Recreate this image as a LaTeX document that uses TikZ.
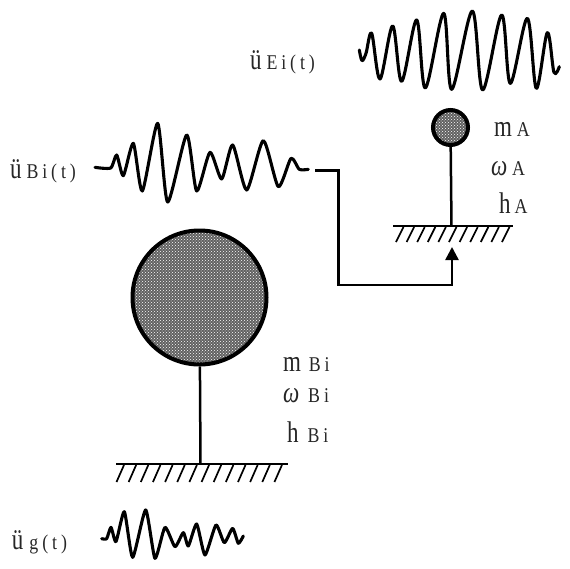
\documentclass[tikz,border=0pt]{standalone}
\usepackage{fontspec}
\usepackage{graphicx}
\usetikzlibrary{arrows.meta,patterns}
\setmainfont{Liberation Serif}
\newfontfamily\subf[LetterSpace=22]{Liberation Serif}
\newcommand{\mainl}[1]{\scalebox{1}[1.3]{\fontsize{23}{23}\selectfont #1}}
\newcommand{\subl}[1]{\scalebox{.85}[1]{\subf\fontsize{21}{21}\selectfont #1}}
\tikzset{
  x=1pt,y=-1pt,
  lbl/.style={anchor=base west,inner sep=0pt,outer sep=0pt,text=black!85},
  ink/.style={line width=2.5pt,black,line cap=round,line join=round},
  wave/.style={ink,line width=3.1pt},
  ball/.style={circle,draw=black,line width=4pt,inner sep=0pt,preaction={fill=black!62},pattern=crosshatch dots,pattern color=white},
  ground/.style={line width=2.5pt,black},
  hatch/.style={line width=1.7pt,black},
  conn/.style={ink,line cap=butt,line join=miter},
}
\begin{document}
\begin{tikzpicture}
\useasboundingbox (0,0) rectangle (570,568);
% balls
\node[ball,minimum size=134pt] (ballB) at (199.5,297.5) {};
\node[ball,minimum size=35pt] (ballA) at (450.5,127.5) {};
% ground A
\coordinate (gAl) at (393,226); \coordinate (gAr) at (513,226); \coordinate (gAm) at (451.5,226);
\draw[ground] (gAl) -- (gAr);
\foreach \i in {0,...,10} \draw[hatch] (396+\i*10.6,242) -- (403.5+\i*10.6,227);
\draw[ink,line cap=butt] (ballA) -- (gAm);
% ground B
\coordinate (gBl) at (116,464); \coordinate (gBr) at (288,464); \coordinate (gBm) at (200.5,464);
\draw[ground] (gBl) -- (gBr);
\foreach \i in {0,...,13} \draw[hatch] (116.5+\i*12.15,482) -- (124+\i*12.15,465);
\draw[ink,line cap=butt] (ballB) -- (gBm);
% connector
\coordinate (c1) at (315,170.7); \coordinate (c2) at (338.5,170.7);
\coordinate (c3) at (338.5,285); \coordinate (c4) at (452,285); \coordinate (c5) at (452,247);
\draw[conn,-{Triangle[length=13pt,width=13pt]}] (c1) -- (c2) -- (c3) -- (c4) -- (c5);
% waves
\begin{scope}[shift={(340,10)},x=0.3333pt,y=-0.3333pt]
\draw[wave] plot[smooth,tension=.55] coordinates {(58,120)(66,152)(78,130)(95,70)(120,207)(158,48)(185,214)(230,30)(256,234)(311,10)(335,238)(397,3)(428,240)(485,15)(511,220)(562,25)(589,235)(622,68)(642,187)(658,170)};
\end{scope}
\begin{scope}[shift={(90,110)},x=0.3333pt,y=-0.3333pt]
\draw[wave] plot[smooth,tension=.4] coordinates {(15,172)(62,174)(80,135)(100,197)(130,100)(157,243)(203,40)(233,276)(290,75)(320,243)(360,127)(395,207)(428,105)(470,240)(520,92)(565,230)(603,145)(628,178)(655,178)};
\end{scope}
\begin{scope}[shift={(90,440)},x=0.3333pt,y=-0.3333pt]
\draw[wave] plot[smooth,tension=.35] coordinates {(35,296)(50,296)(63,262)(78,305)(103,215)(128,352)(167,210)(195,355)(225,262)(255,320)(280,278)(295,318)(320,252)(345,345)(378,255)(403,308)(428,265)(445,310)(460,288)};
\end{scope}
% labels
\node[lbl] (uE) at (250,69) {\mainl{ü}\kern5pt\subl{Ei(t)}};
\node[lbl] (uB) at (10,178) {\mainl{ü}\kern5pt\subl{Bi(t)}};
\node[lbl] (ug) at (12,549) {\mainl{ü}\kern6pt\subl{g(t)}};
\node[lbl] (mA) at (494,136) {\mainl{m}\kern5pt\subl{A}};
\node[lbl] (wA) at (491,175) {\mainl{\itshape ω}\kern5pt\subl{A}};
\node[lbl] (hA) at (499,213) {\mainl{h}\kern4pt\subl{A}};
\node[lbl] (mB) at (283,371) {\mainl{m}\kern8pt\subl{Bi}};
\node[lbl] (wB) at (283,402) {\mainl{\itshape ω}\kern9pt\subl{Bi}};
\node[lbl] (hB) at (287,442) {\mainl{h}\kern9pt\subl{Bi}};
\end{tikzpicture}
\end{document}
